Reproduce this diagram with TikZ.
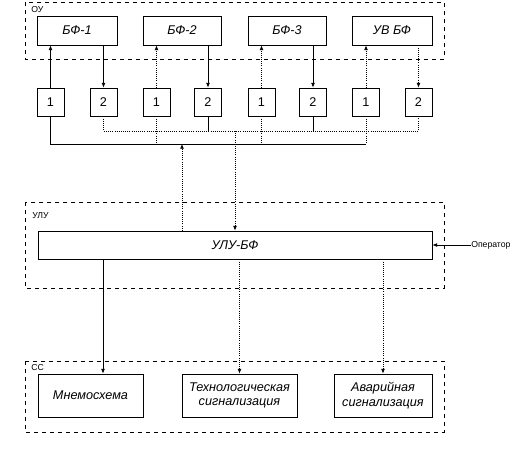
\documentclass[tikz,border=0pt]{standalone}
\usepackage{fontspec}
\setmainfont{Liberation Sans}
\usetikzlibrary{arrows.meta}

\tikzset{
  blk/.style={draw, line width=0.6pt, inner sep=0pt, align=center,
    font=\itshape\fontsize{9.5}{11}\selectfont},
  sq/.style={draw, line width=0.6pt, inner sep=0pt, minimum width=20.25pt,
    minimum height=21pt, font=\fontsize{9.5}{10}\selectfont},
  grp/.style={inner sep=0pt, anchor=west, font=\fontsize{6.5}{7}\selectfont},
  frame/.style={line width=0.6pt, dashed},
  ln/.style={line width=0.6pt},
  dln/.style={line width=0.6pt, densely dotted},
  arr/.style={-{Latex[length=3.5pt,width=3pt]}}
}

\begin{document}
\begin{tikzpicture}[x=0.75pt, y=-0.75pt]
  \useasboundingbox (0,0) rectangle (532,461);
  % groups
  \draw[frame] (25,2) rectangle (444,59);
  \node[grp] (ou) at (31,10) {ОУ};
  \draw[frame] (25,202) rectangle (444,288);
  \node[grp] (ulul) at (32,216) {УЛУ};
  \draw[frame] (25,361) rectangle (444,432);
  \node[grp] (cc) at (31,368) {СС};

  % object blocks
  \node[blk, minimum width=60pt, minimum height=21.75pt] (bf1) at (77,30.5) {БФ-1};
  \node[blk, minimum width=58.5pt, minimum height=21.75pt] (bf2) at (182,30.5) {БФ-2};
  \node[blk, minimum width=58.5pt, minimum height=21.75pt] (bf3) at (287,30.5) {БФ-3};
  \node[blk, minimum width=60pt, minimum height=21.75pt] (uvbf) at (392,30.5) {УВ БФ};

  % interface boxes
  \node[sq] (a1) at (50.5,102) {1};
  \node[sq] (b1) at (103.5,102) {2};
  \node[sq] (a2) at (156.5,102) {1};
  \node[sq] (b2) at (208,102) {2};
  \node[sq] (a3) at (261.5,102) {1};
  \node[sq] (b3) at (313,102) {2};
  \node[sq] (a4) at (366,102) {1};
  \node[sq] (b4) at (418.5,102) {2};

  \draw[ln,arr] (a1.north) -- (a1.north |- bf1.south);
  \draw[ln,arr] (bf1.south -| b1.north) -- (b1.north);
  \draw[dln,arr] (a2.north) -- (a2.north |- bf2.south);
  \draw[ln,arr] (bf2.south -| b2.north) -- (b2.north);
  \draw[dln,arr] (a3.north) -- (a3.north |- bf3.south);
  \draw[ln,arr] (bf3.south -| b3.north) -- (b3.north);
  \draw[dln,arr] (a4.north) -- (a4.north |- uvbf.south);
  \draw[dln,arr] (uvbf.south -| b4.north) -- (b4.north);

  % buses
  \coordinate (busB) at (0,131);
  \coordinate (busA) at (0,144);
  \draw[dln] (b1.south) -- (b1.south |- busB) -- (b4.south |- busB) -- (b4.south);
  \draw[ln] (b2.south) -- (b2.south |- busB);
  \draw[ln] (b3.south) -- (b3.south |- busB);
  \draw[ln] (a1.south) -- (a1.south |- busA) -- (a4.south |- busA);
  \draw[dln] (a4.south) -- (a4.south |- busA);
  \draw[dln] (a2.south) -- (a2.south |- busA);
  \draw[dln] (a3.south) -- (a3.south |- busA);

  % logic unit
  \node[blk, minimum width=295.5pt, minimum height=21pt] (ulu) at (235,245) {УЛУ-БФ};
  \coordinate (upX) at (182,0);
  \coordinate (dnX) at (235,0);
  \draw[dln,arr] (ulu.north -| upX) -- (busA -| upX);
  \draw[dln,arr] (busB -| dnX) -- (ulu.north -| dnX);

  \coordinate (op) at (471,245);
  \node[grp] (opl) at (op) {Оператор};
  \draw[ln,arr] (op) -- (ulu.east);

  % signalling
  \node[blk, minimum width=78.75pt, minimum height=32.25pt] (mn) at (90.5,395.5) {Мнемосхема};
  \node[blk, minimum width=86.25pt, minimum height=32.25pt] (tech) at (239.5,395.5) {Технологическая\\сигнализация};
  \node[blk, minimum width=73.5pt, minimum height=32.25pt] (avar) at (383,395.5) {Аварийная\\сигнализация};

  \coordinate (mnX) at (103,0);
  \draw[ln,arr] (ulu.south -| mnX) -- (mn.north -| mnX);
  \draw[dln,arr] (ulu.south -| tech.north) -- (tech.north);
  \draw[dln,arr] (ulu.south -| avar.north) -- (avar.north);
\end{tikzpicture}
\end{document}
